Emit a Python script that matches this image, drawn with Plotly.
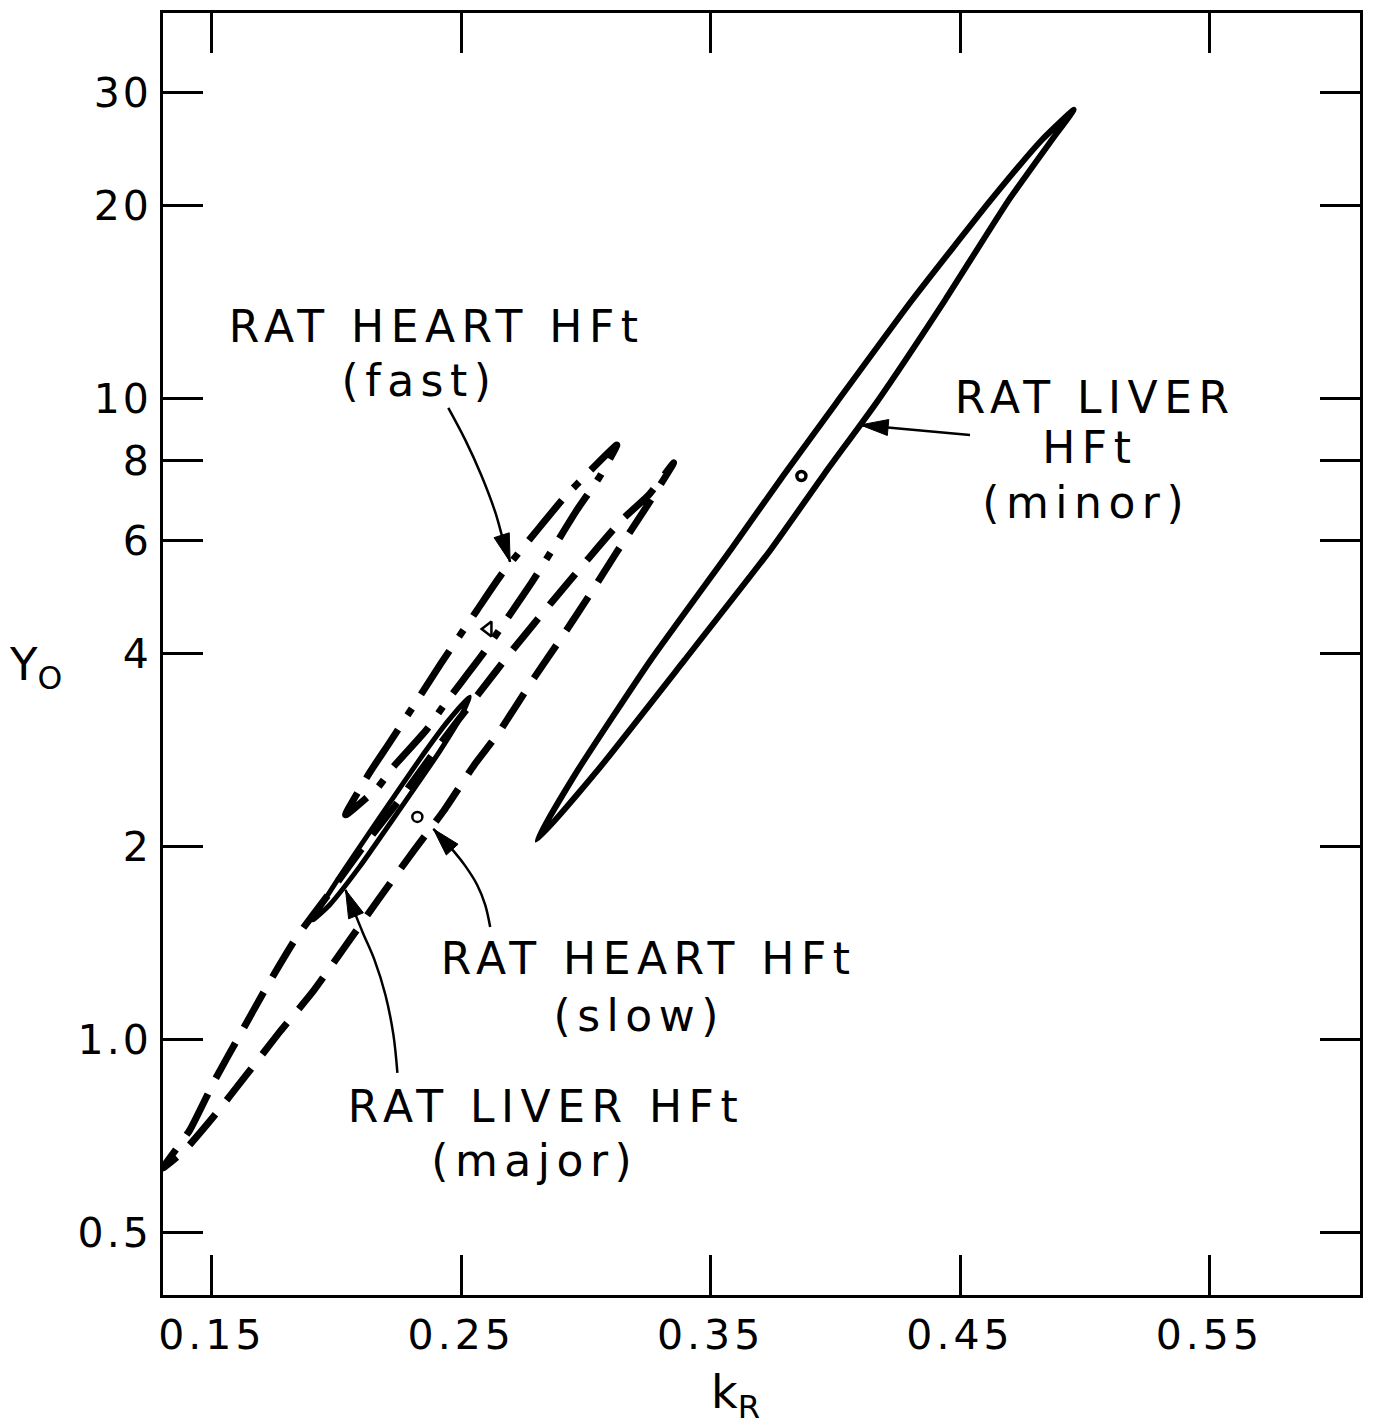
import numpy as np
import plotly.graph_objects as go

# ---------------- data ----------------
# RAT LIVER HFt (minor) - solid contour
liver_minor_x = [0.2804, 0.2968, 0.3260, 0.3580, 0.3796, 0.4004, 0.4308, 0.4624, 0.4828, 0.4956,
                 0.4868, 0.4696, 0.4440, 0.4164, 0.3956, 0.3740, 0.3396, 0.3048, 0.2804]
liver_minor_y = [2.046, 2.631, 3.906, 5.799, 7.619, 9.833, 14.23, 20.39, 25.29, 28.18,
                 25.29, 20.39, 14.23, 9.833, 7.619, 5.799, 3.906, 2.631, 2.046]

# RAT HEART HFt (slow) - dashed contour
heart_slow_x = [0.1304, 0.1412, 0.1512, 0.1612, 0.1724, 0.1840, 0.1972, 0.2112, 0.2252, 0.2412,
                0.2572, 0.2712, 0.2860, 0.3012, 0.3144, 0.3252, 0.3352,
                0.3240, 0.3124, 0.3020, 0.2904, 0.2792, 0.2644, 0.2552, 0.2432, 0.2312,
                0.2172, 0.2044, 0.1904, 0.1772, 0.1632, 0.1512, 0.1392, 0.1304]
heart_slow_y = [0.6298, 0.7221, 0.8639, 1.0156, 1.2152, 1.4437, 1.6916, 2.0098, 2.3624, 2.8786,
                3.4697, 4.0768, 4.7937, 5.6353, 6.4580, 7.0664, 7.9297,
                6.744, 5.757, 4.970, 4.242, 3.662, 2.984, 2.679, 2.279, 1.974,
                1.661, 1.413, 1.185, 1.0266, 0.8733, 0.7617, 0.6721, 0.6298]

# RAT HEART HFt (fast) - dash-dot contour
heart_fast_x = [0.2036, 0.2132, 0.2212, 0.2332, 0.2420, 0.2564, 0.2660, 0.2812, 0.2912, 0.3012, 0.3124,
                0.3052, 0.2964, 0.2872, 0.2784, 0.2672, 0.2584, 0.2440, 0.2360, 0.2224, 0.2164, 0.2036]
heart_fast_y = [2.2387, 2.6029, 2.8995, 3.4198, 3.8646, 4.6746, 5.3012, 6.2777, 6.9907, 7.6741, 8.4566,
                7.5107, 6.6947, 5.8614, 5.1698, 4.4609, 3.9783, 3.3590, 3.0374, 2.6502, 2.4660, 2.2387]

# RAT LIVER HFt (major) - small solid contour
liver_major_x = [0.1904, 0.2004, 0.2180, 0.2332, 0.2444, 0.2532,
                 0.2500, 0.2412, 0.2252, 0.2092, 0.1972, 0.1904]
liver_major_y = [1.5350, 1.7723, 2.2387, 2.7283, 3.1262, 3.4198,
                 3.1944, 2.8072, 2.2793, 1.8574, 1.6202, 1.5350]

# best-fit points (centres)
centre_minor = (0.3864, 7.564)
centre_slow = (0.2324, 2.2228)
centre_fast = (0.2608, 4.3664)

# label arrows (curve points, last entry = arrow tip)
arrow_fast_x = [0.2448, 0.2516, 0.2580, 0.2636, 0.2668, 0.2696]
arrow_fast_y = [9.658, 8.610, 7.591, 6.647, 6.011, 5.555]
arrow_minor_x = [0.4540, 0.4100]
arrow_minor_y = [8.764, 9.085]
arrow_slow_x = [0.2616, 0.2596, 0.2564, 0.2516, 0.2472, 0.2388]
arrow_slow_y = [1.4967, 1.6202, 1.7406, 1.8640, 1.9600, 2.1284]
arrow_major_x = [0.2244, 0.2228, 0.2196, 0.2152, 0.2104, 0.2036]
arrow_major_y = [0.8859, 1.0156, 1.1725, 1.3297, 1.4705, 1.7100]

x_ticks = [0.15, 0.25, 0.35, 0.45, 0.55]
x_tick_labels = ["0.15", "0.25", "0.35", "0.45", "0.55"]
y_ticks = [0.5, 1.0, 2, 4, 6, 8, 10, 20, 30]
y_tick_labels = ["0.5", "1.0", "2", "4", "6", "8", "10", "20", "30"]

# ---------------- layout geometry ----------------
W, H = 1373, 1428
ML, MR, MT, MB = 163, 10, 13, 133
PW, PH = W - ML - MR, H - MT - MB
XR = [0.1304, 0.6104]
YR = [-0.399, 1.601]
FONT = "DejaVu Sans"


def to_px(x, y):
    return ((x - XR[0]) / (XR[1] - XR[0]) * PW,
            (np.log10(y) - YR[0]) / (YR[1] - YR[0]) * PH)


def from_px(px, py):
    return (XR[0] + px / PW * (XR[1] - XR[0]),
            10 ** (YR[0] + py / PH * (YR[1] - YR[0])))


def head(xs, ys, L=28, hw=8):
    tx, ty = to_px(xs[-1], ys[-1])
    qx, qy = to_px(xs[-2], ys[-2])
    dx, dy = tx - qx, ty - qy
    n = np.hypot(dx, dy)
    ux, uy = dx / n, dy / n
    bx, by = tx - L * ux, ty - L * uy
    p1 = from_px(bx - hw * uy, by + hw * ux)
    p2 = from_px(bx + hw * uy, by - hw * ux)
    return ([xs[-1], p1[0], p2[0], xs[-1]], [ys[-1], p1[1], p2[1], ys[-1]])


fig = go.Figure()

fig.add_trace(go.Scatter(x=liver_minor_x, y=liver_minor_y, mode="lines",
                         line=dict(color="black", width=6, shape="spline", smoothing=0.5)))
fig.add_trace(go.Scatter(x=heart_slow_x, y=heart_slow_y, mode="lines",
                         line=dict(color="black", width=7, dash="40px,18px", shape="spline", smoothing=0.5)))
fig.add_trace(go.Scatter(x=heart_fast_x, y=heart_fast_y, mode="lines",
                         line=dict(color="black", width=7, dash="52px,17px,8px,17px",
                                   shape="spline", smoothing=0.5)))
fig.add_trace(go.Scatter(x=liver_major_x, y=liver_major_y, mode="lines",
                         line=dict(color="black", width=5, shape="spline", smoothing=0.5)))

# centres
fig.add_trace(go.Scatter(x=[centre_minor[0]], y=[centre_minor[1]], mode="markers",
                         marker=dict(symbol="circle-open", size=9, color="black", line=dict(width=3.5))))
fig.add_trace(go.Scatter(x=[centre_slow[0]], y=[centre_slow[1]], mode="markers",
                         marker=dict(symbol="circle-open", size=10, color="black", line=dict(width=2.5))))
fig.add_trace(go.Scatter(x=[centre_fast[0]], y=[centre_fast[1]], mode="markers",
                         marker=dict(symbol="triangle-left-open", size=13, color="black", line=dict(width=2.5))))

# arrows
for ax_, ay_ in [(arrow_fast_x, arrow_fast_y), (arrow_minor_x, arrow_minor_y),
                 (arrow_slow_x, arrow_slow_y), (arrow_major_x, arrow_major_y)]:
    fig.add_trace(go.Scatter(x=ax_, y=ay_, mode="lines",
                             line=dict(color="black", width=2.5, shape="spline")))
    hx, hy = head(ax_, ay_)
    fig.add_trace(go.Scatter(x=hx, y=hy, mode="lines", fill="toself", fillcolor="black",
                             line=dict(color="black", width=1)))


def pp(px, py):
    return (px - ML) / PW, (H - MB - py) / PH


labels = [
    ("RAT HEART HFt", 437, 326), ("(fast)", 420, 381),
    ("RAT LIVER", 1097, 397), ("HFt", 1092, 447), ("(minor)", 1088, 503),
    ("RAT HEART HFt", 650, 958), ("(slow)", 640, 1015),
    ("RAT LIVER HFt", 547, 1106), ("(major)", 535, 1160),
]
annotations = []
for txt, px, py in labels:
    xp, yp = pp(px, py)
    annotations.append(dict(text=txt, x=xp, y=yp, xref="paper", yref="paper",
                            xanchor="center", yanchor="middle", showarrow=False,
                            font=dict(family=FONT, size=44, color="black")))
xp, yp = pp(35, 667)
annotations.append(dict(text="Y<sub>O</sub>", x=xp, y=yp, xref="paper", yref="paper",
                        xanchor="center", yanchor="middle", showarrow=False,
                        font=dict(family=FONT, size=45, color="black")))
xp, yp = pp(737, 1395)
annotations.append(dict(text="k<sub>R</sub>", x=xp, y=yp, xref="paper", yref="paper",
                        xanchor="center", yanchor="middle", showarrow=False,
                        font=dict(family=FONT, size=46, color="black")))

axis_common = dict(showgrid=False, zeroline=False, showline=True, linecolor="black", linewidth=3,
                   ticks="inside", ticklen=40, tickwidth=3, tickcolor="black", mirror="allticks",
                   tickfont=dict(family=FONT, size=41, color="black"))

fig.update_layout(
    width=W, height=H, autosize=False,
    margin=dict(l=ML, r=MR, t=MT, b=MB),
    paper_bgcolor="white", plot_bgcolor="white",
    showlegend=False,
    xaxis=dict(range=XR, tickvals=x_ticks, ticktext=x_tick_labels, ticklabelstandoff=2, **axis_common),
    yaxis=dict(type="log", range=YR, tickvals=y_ticks, ticktext=y_tick_labels, ticklabelstandoff=0,
               **axis_common),
    annotations=annotations,
)

# widen the lettering like the original drawing's spaced capitals
post_script = """
var spread = function(sel, v) {
  document.querySelectorAll(sel).forEach(function(t) {
    var s = t.textContent;
    if (s.indexOf('Y') === 0 || s.indexOf('k') === 0) { return; }
    t.style.letterSpacing = v;
  });
};
spread('.annotation-text', '6.5px');
spread('.xtick text', '4px');
spread('.ytick text', '3px');
"""

fig.write_html("out.html", post_script=post_script)
